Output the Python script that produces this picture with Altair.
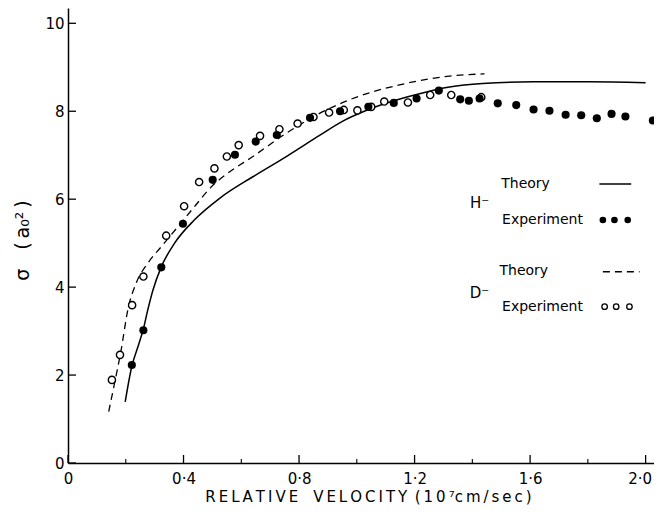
import altair as alt
import pandas as pd

# ---------------- data ----------------
# H- experiment (filled circles)
h_exp_x = [0.221, 0.261, 0.323, 0.398, 0.501, 0.578, 0.650, 0.723, 0.838, 0.942,
           1.040, 1.128, 1.207, 1.284, 1.358, 1.388, 1.425, 1.488, 1.552, 1.612,
           1.667, 1.723, 1.777, 1.831, 1.882, 1.930, 2.025]
h_exp_y = [2.23, 3.02, 4.45, 5.44, 6.44, 7.01, 7.31, 7.46, 7.85, 8.00,
           8.10, 8.19, 8.29, 8.47, 8.27, 8.24, 8.29, 8.18, 8.14, 8.04,
           8.01, 7.92, 7.91, 7.84, 7.94, 7.88, 7.79]

# D- experiment (open circles)
d_exp_x = [0.152, 0.180, 0.222, 0.261, 0.340, 0.402, 0.454, 0.507, 0.550, 0.591,
           0.665, 0.732, 0.795, 0.850, 0.904, 0.955, 1.002, 1.050, 1.095, 1.177,
           1.254, 1.327, 1.431]
d_exp_y = [1.89, 2.46, 3.59, 4.24, 5.17, 5.84, 6.39, 6.70, 6.97, 7.23,
           7.44, 7.59, 7.72, 7.87, 7.97, 8.03, 8.02, 8.10, 8.22, 8.20,
           8.37, 8.37, 8.32]

# H- theory (solid line)
h_th_x = [0.198, 0.221, 0.245, 0.261, 0.275, 0.294, 0.323, 0.369, 0.438, 0.525,
          0.640, 0.756, 0.871, 0.950, 1.030, 1.100, 1.217, 1.321, 1.436, 1.610,
          1.800, 2.000]
h_th_y = [1.39, 2.20, 2.70, 3.05, 3.45, 3.93, 4.46, 5.00, 5.53, 6.02,
          6.51, 6.97, 7.45, 7.77, 8.01, 8.18, 8.40, 8.55, 8.63, 8.67,
          8.67, 8.65]

# D- theory (dashed line)
d_th_x = [0.141, 0.161, 0.184, 0.207, 0.236, 0.276, 0.323, 0.380, 0.438, 0.496,
          0.553, 0.640, 0.756, 0.871, 0.986, 1.148, 1.321, 1.442]
d_th_y = [1.17, 1.81, 2.57, 3.48, 4.09, 4.54, 4.92, 5.37, 5.83, 6.28,
          6.59, 6.97, 7.50, 7.95, 8.29, 8.60, 8.80, 8.85]

x_major = [0.0, 0.4, 0.8, 1.2, 1.6, 2.0]
x_minor = [0.2, 0.6, 1.0, 1.4, 1.8]
y_major = [0, 2, 4, 6, 8, 10]

# legend (in data units)
leg_text = ["H\u207b", "Theory", "Experiment", "D\u207b", "Theory", "Experiment"]
leg_tx = [1.425, 1.500, 1.503, 1.425, 1.494, 1.503]
leg_ty = [5.91, 6.345, 5.527, 3.86, 4.367, 3.555]
leg_align = ["center", "left", "left", "center", "left", "left"]
leg_solid_x = [1.840, 1.950]
leg_solid_y = [6.345, 6.345]
leg_dash_x = [1.852, 1.979]
leg_dash_y = [4.35, 4.35]
leg_fill_x = [1.852, 1.892, 1.938]
leg_fill_y = [5.527, 5.527, 5.527]
leg_open_x = [1.858, 1.898, 1.944]
leg_open_y = [3.555, 3.555, 3.555]

# ---------------- chart ----------------
W, H = 586, 455
FONT = "DejaVu Sans"
THIN, EN = "\u2009", "\u2002"


def spaced(s):
    return THIN.join(s)


x_title = (spaced("RELATIVE") + EN * 2 + spaced("VELOCITY") + EN + spaced("(10")
           + THIN + "\u2077" + spaced("cm/sec)"))
y_title = "\u03c3\u2003(\u2009a\u2080\u00b2\u2009)"

xs = alt.Scale(domain=[0, 2.029], nice=False, zero=False)
ys = alt.Scale(domain=[0, 10.348], nice=False, zero=False)

x_axis = alt.Axis(
    values=x_major, ticks=False, tickSize=0, grid=False,
    labelExpr="datum.value == 0 ? '0' : replace(format(datum.value, '.1f'), '.', '\u00b7')",
    labelPadding=8, labelFontSize=15, labelFont=FONT, labelColor="black",
    labelFlush=False, labelOverlap=False,
    labelOffset={"condition": {"test": "datum.value == 2", "value": -6}, "value": 0},
    title=x_title,
    titleFont=FONT, titleFontSize=15, titleFontWeight="normal", titleColor="black",
    titleX=300, titleY=38, titleBaseline="alphabetic", titleAlign="center",
    domainColor="black", domainWidth=1.5,
)
y_axis = alt.Axis(
    values=y_major, ticks=False, tickSize=0, grid=False, format="d",
    labelPadding=4, labelFontSize=15, labelFont=FONT, labelColor="black",
    labelFlush=False, labelOverlap=False,
    title=y_title,
    titleFont=FONT, titleFontSize=19, titleFontWeight="normal", titleColor="black",
    titleX=-46, titleY=232, titleBaseline="middle", titleAlign="center", titleAngle=-90,
    domainColor="black", domainWidth=1.5,
)

X = alt.X("x:Q", scale=xs, axis=x_axis)
Y = alt.Y("y:Q", scale=ys, axis=y_axis)

df_h_exp = pd.DataFrame({"x": h_exp_x, "y": h_exp_y})
df_d_exp = pd.DataFrame({"x": d_exp_x, "y": d_exp_y})
df_h_th = pd.DataFrame({"x": h_th_x, "y": h_th_y})
df_d_th = pd.DataFrame({"x": d_th_x, "y": d_th_y})

h_line = alt.Chart(df_h_th).mark_line(color="black", strokeWidth=1.5, interpolate="monotone").encode(x=X, y=Y)
d_line = alt.Chart(df_d_th).mark_line(color="black", strokeWidth=1.3, strokeDash=[7, 5],
                                      interpolate="monotone").encode(x=X, y=Y)
d_pts = alt.Chart(df_d_exp).mark_point(shape="circle", filled=False, fill="white", fillOpacity=1,
                                       color="black", strokeWidth=1.4, size=52, opacity=1).encode(x=X, y=Y)
h_pts = alt.Chart(df_h_exp).mark_circle(color="black", size=66, opacity=1).encode(x=X, y=Y)

# inward ticks
df_xmaj = pd.DataFrame({"x": x_major})
df_xmin = pd.DataFrame({"x": x_minor})
df_ymaj = pd.DataFrame({"y": y_major})
xt_major = alt.Chart(df_xmaj).mark_rule(color="black", strokeWidth=1.3).encode(
    x=X, y=alt.value(H), y2=alt.value(H - 8))
xt_minor = alt.Chart(df_xmin).mark_rule(color="black", strokeWidth=1.1).encode(
    x=X, y=alt.value(H), y2=alt.value(H - 4))
yt_major = alt.Chart(df_ymaj).mark_rule(color="black", strokeWidth=1.3).encode(
    y=Y, x=alt.value(0), x2=alt.value(8))

# legend
df_leg = pd.DataFrame({"x": leg_tx, "y": leg_ty, "t": leg_text, "a": leg_align})
leg_left = alt.Chart(df_leg[df_leg.a == "left"]).mark_text(
    align="left", baseline="middle", font=FONT, fontSize=14, color="black").encode(x=X, y=Y, text="t:N")
leg_center = alt.Chart(df_leg[df_leg.a == "center"]).mark_text(
    align="center", baseline="middle", font=FONT, fontSize=15, color="black").encode(x=X, y=Y, text="t:N")
leg_s = alt.Chart(pd.DataFrame({"x": leg_solid_x, "y": leg_solid_y})).mark_line(
    color="black", strokeWidth=1.5).encode(x=X, y=Y)
leg_d = alt.Chart(pd.DataFrame({"x": leg_dash_x, "y": leg_dash_y})).mark_line(
    color="black", strokeWidth=1.3, strokeDash=[7, 5]).encode(x=X, y=Y)
leg_f = alt.Chart(pd.DataFrame({"x": leg_fill_x, "y": leg_fill_y})).mark_circle(
    color="black", size=44, opacity=1).encode(x=X, y=Y)
leg_o = alt.Chart(pd.DataFrame({"x": leg_open_x, "y": leg_open_y})).mark_point(
    shape="circle", filled=False, color="black", strokeWidth=1.3, size=30, opacity=1).encode(x=X, y=Y)

chart = alt.layer(
    h_line, d_line, d_pts, h_pts, xt_major, xt_minor, yt_major,
    leg_left, leg_center, leg_s, leg_d, leg_f, leg_o
).properties(
    width=W, height=H,
    autosize=alt.AutoSizeParams(type="none"),
    padding={"left": 60, "top": 0, "right": 0, "bottom": 44},
    background="white",
).configure_view(stroke=None).configure_axis(titleColor="black", labelColor="black")

chart.save("out.html", embed_options={"renderer": "svg", "actions": False})
